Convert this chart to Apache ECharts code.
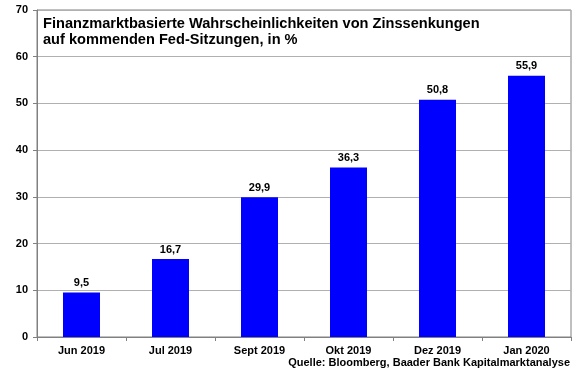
<!DOCTYPE html>
<html><head><meta charset="utf-8">
<script src="https://cdn.jsdelivr.net/npm/echarts@6/dist/echarts.min.js"></script>
<style>html,body{margin:0;padding:0;background:#fff}#c{width:580px;height:375px}</style>
</head><body><div id="c"></div>
<script>
var categories = ['Jun 2019','Jul 2019','Sept 2019','Okt 2019','Dez 2019','Jan 2020'];
var values = [9.5, 16.7, 29.9, 36.3, 50.8, 55.9];
var titleText = 'Finanzmarktbasierte Wahrscheinlichkeiten von Zinssenkungen\nauf kommenden Fed-Sitzungen, in %';
var sourceText = 'Quelle: Bloomberg, Baader Bank Kapitalmarktanalyse';
var chart = echarts.init(document.getElementById('c'));
var ff = 'Liberation Sans, Arial, sans-serif';
chart.setOption({
  animation:false,
  backgroundColor:'#fff',
  title:[{text:titleText,left:43,top:16,padding:0,textStyle:{fontFamily:ff,fontSize:14.6,fontWeight:'bold',color:'#000',lineHeight:16}},
         {text:sourceText,right:10,top:357,padding:0,textStyle:{fontFamily:ff,fontSize:11,fontWeight:'bold',color:'#000'}}],
  grid:{left:37,right:9,top:10,bottom:38,show:true,borderColor:'#808080',borderWidth:1},
  xAxis:{type:'category',data:categories,
    axisLine:{lineStyle:{color:'#808080'}},
    axisTick:{show:true,length:4,lineStyle:{color:'#808080'}},
    axisLabel:{fontFamily:ff,fontSize:11,fontWeight:'bold',color:'#000',margin:8}},
  yAxis:{type:'value',min:0,max:70,interval:10,
    axisLine:{show:true,lineStyle:{color:'#808080'}},
    axisTick:{show:true,length:4,lineStyle:{color:'#808080'}},
    splitLine:{lineStyle:{color:'#b0b0b0'}},
    axisLabel:{fontFamily:ff,fontSize:11,fontWeight:'bold',color:'#000',margin:9}},
  series:[{type:'bar',data:values,barWidth:37,itemStyle:{color:'#0000ff'},
    label:{show:true,position:'top',distance:4,fontFamily:ff,fontSize:11,fontWeight:'bold',color:'#000',
      formatter:function(p){return p.value.toFixed(1).replace('.',',');}}}]
});
</script></body></html>
